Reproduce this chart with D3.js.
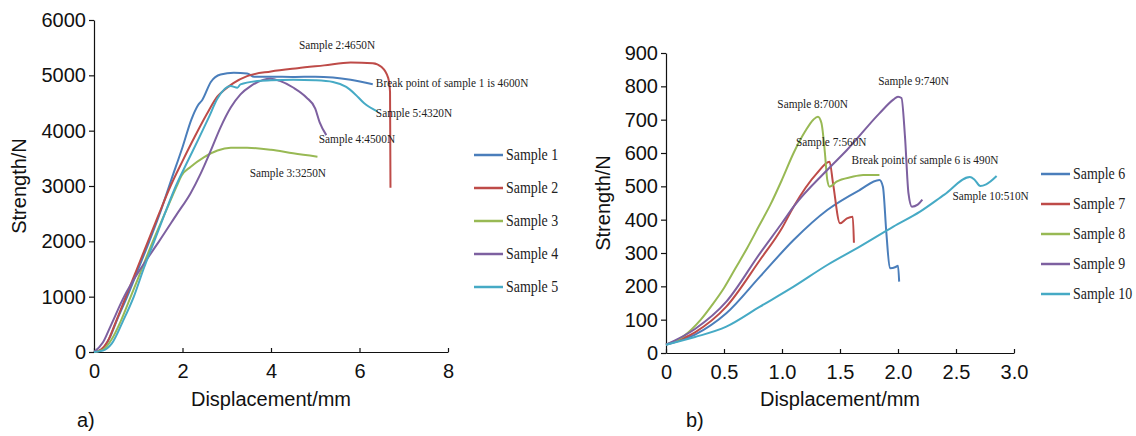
<!DOCTYPE html>
<html>
<head>
<meta charset="utf-8">
<script src="https://cdn.jsdelivr.net/npm/d3@7"></script>
<style>
  body { margin: 0; background: #fff; }
  .axis text { font-family: "Liberation Sans", Arial, sans-serif; font-size: 20px; fill: #111; }
  .axis path, .axis line { stroke: #111; stroke-width: 1.2px; }
  .title { font-family: "Liberation Sans", Arial, sans-serif; font-size: 20px; fill: #111; }
  .note { font-family: "Liberation Serif", "Times New Roman", serif; font-size: 13px; fill: #222; }
  .leg { font-family: "Liberation Serif", "Times New Roman", serif; font-size: 16px; fill: #222; }
</style>
</head>
<body>
<script>
// colours (Office style)
var colors = ["#4a7ebb", "#be4b48", "#98b954", "#7d60a0", "#46aac5"];

// ---- panel a) : displacement (mm), strength (N)
var namesA = ["Sample 1", "Sample 2", "Sample 3", "Sample 4", "Sample 5"];
var sample1 = [[0,0],[0.2,60],[0.35,250],[0.53,600],[0.75,1000],[1.0,1500],[1.25,2000],[1.5,2530],[1.75,3120],[2.0,3700],[2.2,4200],[2.35,4460],[2.45,4560],[2.64,4880],[2.86,5015],[3.16,5045],[3.46,5035],[3.62,4975],[4.0,4975],[4.5,4970],[5.0,4975],[5.4,4960],[5.8,4920],[6.3,4840]];
var sample2 = [[0,0],[0.15,40],[0.3,180],[0.5,560],[0.72,1000],[0.97,1500],[1.22,2000],[1.47,2500],[1.73,3000],[2.0,3450],[2.27,3880],[2.55,4300],[2.79,4620],[2.95,4740],[3.15,4860],[3.46,4985],[4.0,5070],[4.6,5130],[5.2,5180],[5.8,5230],[6.3,5220],[6.5,5150],[6.65,4950],[6.69,4700],[6.7,2970]];
var sample3 = [[0,0],[0.2,40],[0.4,230],[0.6,550],[0.83,1000],[1.08,1500],[1.33,2000],[1.6,2500],[1.87,3000],[1.98,3190],[2.18,3343],[2.49,3522],[2.79,3642],[3.09,3690],[3.46,3690],[4.0,3654],[4.5,3590],[5.05,3530]];
var sample4 = [[0,0],[0.2,170],[0.38,478],[0.68,1000],[1.05,1500],[1.25,1740],[1.47,2000],[1.88,2500],[2.18,2866],[2.41,3224],[2.64,3642],[2.86,4060],[3.09,4418],[3.31,4657],[3.54,4806],[3.99,4940],[4.2,4900],[4.5,4780],[4.8,4600],[5.0,4400],[5.1,4150],[5.25,3920]];
var sample5 = [[0,0],[0.2,25],[0.4,150],[0.65,550],[0.9,1000],[1.12,1500],[1.36,2000],[1.6,2500],[1.85,3000],[2.1,3420],[2.35,3830],[2.6,4250],[2.79,4580],[3.09,4806],[3.24,4776],[3.31,4836],[3.69,4896],[4.0,4910],[4.5,4920],[5.0,4910],[5.4,4880],[5.7,4790],[5.9,4660],[6.1,4500],[6.4,4350]];
var notesA = [
  {text: "Sample 2:4650N", x: 4.63, y: 5476},
  {text: "Break point of sample 1 is 4600N", x: 6.37, y: 4790},
  {text: "Sample 5:4320N", x: 6.37, y: 4247},
  {text: "Sample 4:4500N", x: 5.08, y: 3777},
  {text: "Sample 3:3250N", x: 3.52, y: 3163}
];

// ---- panel b)
var namesB = ["Sample 6", "Sample 7", "Sample 8", "Sample 9", "Sample 10"];
var sample6 = [[0,25],[0.25,55],[0.52,119],[0.81,229],[1.1,339],[1.39,429],[1.67,489],[1.84,519],[1.87,499],[1.9,359],[1.93,254],[1.98,258],[2.0,262],[2.01,214]];
var sample7 = [[0,25],[0.25,62],[0.52,139],[0.81,279],[1.0,375],[1.1,439],[1.3,539],[1.41,574],[1.44,509],[1.5,389],[1.56,404],[1.61,409],[1.62,331]];
var sample8 = [[0,25],[0.15,50],[0.3,100],[0.4,145],[0.5,195],[0.6,255],[0.7,315],[0.8,380],[0.9,445],[1.0,520],[1.1,600],[1.2,665],[1.27,700],[1.31,709],[1.34,690],[1.37,600],[1.39,520],[1.41,499],[1.47,514],[1.6,528],[1.7,534],[1.84,534]];
var sample9 = [[0,25],[0.25,72],[0.52,154],[0.81,299],[1.0,390],[1.1,439],[1.39,549],[1.56,609],[1.84,719],[1.96,760],[2.0,769],[2.03,765],[2.06,650],[2.09,480],[2.12,439],[2.17,445],[2.21,460]];
var sample10 = [[0,25],[0.25,48],[0.52,79],[0.81,139],[1.1,199],[1.39,264],[1.67,319],[1.96,379],[2.19,424],[2.4,475],[2.62,528],[2.66,520],[2.71,501],[2.76,506],[2.85,531]];
var notesB = [
  {text: "Sample 9:740N", x: 1.83, y: 804},
  {text: "Sample 8:700N", x: 0.96, y: 735},
  {text: "Sample 7:560N", x: 1.12, y: 621},
  {text: "Break point of sample 6 is 490N", x: 1.6, y: 567},
  {text: "Sample 10:510N", x: 2.47, y: 459}
];

var svg = d3.select("body").append("svg")
    .attr("width", 1136)
    .attr("height", 436);

function panel(opt) {
  var x = d3.scaleLinear().domain(opt.xDomain).range(opt.xRange);
  var y = d3.scaleLinear().domain(opt.yDomain).range(opt.yRange);

  // x axis, ticks pointing inward
  svg.append("g")
      .attr("class", "axis")
      .attr("transform", "translate(0," + opt.yRange[0] + ")")
      .call(d3.axisBottom(x).tickValues(opt.xTicks).tickSizeInner(-4).tickSizeOuter(0)
            .tickPadding(12).tickFormat(opt.xFormat));

  svg.append("g")
      .attr("class", "axis")
      .attr("transform", "translate(" + opt.xRange[0] + ",0)")
      .call(d3.axisLeft(y).tickValues(opt.yTicks).tickSizeInner(5).tickSizeOuter(0)
            .tickPadding(3).tickFormat(d3.format("d")));

  var line = d3.line()
      .curve(d3.curveMonotoneX)
      .x(function(d) { return x(d[0]); })
      .y(function(d) { return y(d[1]); });

  svg.append("g").selectAll("path")
      .data(opt.series)
      .enter().append("path")
      .attr("fill", "none")
      .attr("stroke", function(d, i) { return colors[i]; })
      .attr("stroke-width", 2)
      .attr("stroke-linejoin", "round")
      .attr("d", line);

  // annotations, condensed serif
  svg.append("g").selectAll("text")
      .data(opt.notes)
      .enter().append("text")
      .attr("class", "note")
      .attr("transform", function(d) { return "translate(" + x(d.x) + "," + y(d.y) + ") scale(0.87,1)"; })
      .text(function(d) { return d.text; });

  // axis titles
  svg.append("text")
      .attr("class", "title")
      .attr("text-anchor", "middle")
      .attr("x", (opt.xRange[0] + opt.xRange[1]) / 2)
      .attr("y", 406)
      .text("Displacement/mm");

  svg.append("text")
      .attr("class", "title")
      .attr("text-anchor", "middle")
      .attr("transform", "translate(" + opt.yTitleX + "," + (opt.yRange[0] + opt.yRange[1]) / 2 + ") rotate(-90)")
      .text("Strength/N");

  svg.append("text")
      .attr("class", "title")
      .attr("x", opt.tag[0])
      .attr("y", 427)
      .text(opt.tag[1]);

  // legend
  var leg = svg.append("g")
      .attr("transform", "translate(" + opt.legend[0] + "," + opt.legend[1] + ")");
  var rows = leg.selectAll("g")
      .data(opt.names)
      .enter().append("g")
      .attr("transform", function(d, i) { return "translate(0," + i * opt.legend[2] + ")"; });
  rows.append("line")
      .attr("x1", 0).attr("x2", 29)
      .attr("stroke", function(d, i) { return colors[i]; })
      .attr("stroke-width", 2.5);
  rows.append("text")
      .attr("class", "leg")
      .attr("transform", "translate(32,5) scale(0.87,1)")
      .text(function(d) { return d; });
}

panel({
  xDomain: [0, 8], xRange: [94, 448],
  yDomain: [0, 6000], yRange: [352, 20],
  xTicks: [0, 2, 4, 6, 8], yTicks: d3.range(0, 6001, 1000),
  xFormat: d3.format("d"),
  series: [sample1, sample2, sample3, sample4, sample5],
  notes: notesA, names: namesA,
  yTitleX: 26, tag: [77, "a)"],
  legend: [474, 155, 33]
});

panel({
  xDomain: [0, 3], xRange: [666, 1014],
  yDomain: [0, 900], yRange: [353, 53],
  xTicks: [0, 0.5, 1, 1.5, 2, 2.5, 3], yTicks: d3.range(0, 901, 100),
  xFormat: function(d) { return d === 0 ? "0" : d3.format(".1f")(d); },
  series: [sample6, sample7, sample8, sample9, sample10],
  notes: notesB, names: namesB,
  yTitleX: 610, tag: [686, "b)"],
  legend: [1041, 174, 30]
});
</script>
</body>
</html>
